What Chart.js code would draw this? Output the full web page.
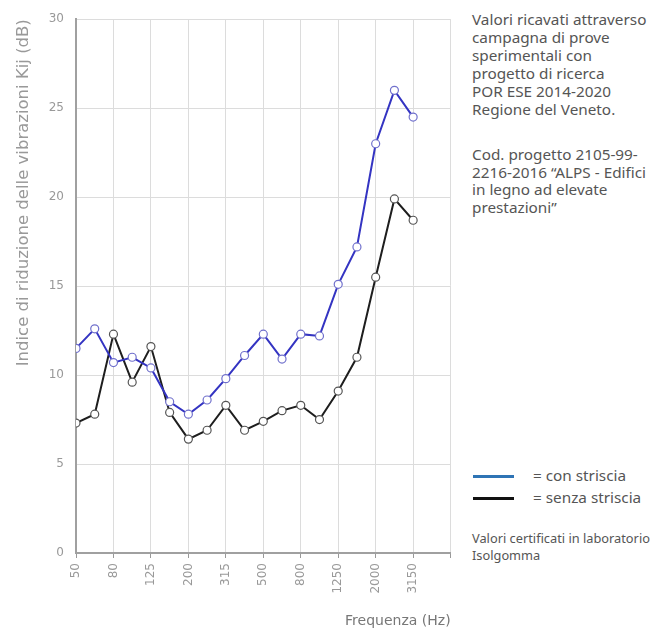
<!DOCTYPE html>
<html>
<head>
<meta charset="utf-8">
<script src="https://cdn.jsdelivr.net/npm/chart.js@4.4.1/dist/chart.umd.min.js"></script>
<style>
  html, body { margin:0; padding:0; background:#fff; }
  #wrap { position:relative; width:657px; height:630px; overflow:hidden; }
  #box { position:absolute; left:0; top:0; width:470px; height:630px; }
  .note { position:absolute; left:472px; font-family:"Noto Sans", sans-serif; color:#555; white-space:nowrap; }
  .p { font-size:15.3px; }
  #info1 { top:10px; line-height:18px; }
  #info2 { top:146px; line-height:17.5px; }
  #legend { top:465px; font-size:15.3px; line-height:20px; width:185px; }
  #legend div { position:relative; height:22px; }
  #legend span.ln { position:absolute; left:1px; top:10px; width:41px; height:3px; }
  #legend span.tx { position:absolute; left:61px; top:0; }
  #cert { top:530px; font-size:12.8px; line-height:17px; }
</style>
</head>
<body>
<div id="wrap">
  <div id="box"><canvas id="chart"></canvas></div>
  <div class="note p" id="info1">Valori ricavati attraverso<br>campagna di prove<br>sperimentali con<br>progetto di ricerca<br>POR ESE 2014-2020<br>Regione del Veneto.</div>
  <div class="note p" id="info2">Cod. progetto 2105-99-<br>2216-2016 “ALPS - Edifici<br>in legno ad elevate<br>prestazioni”</div>
  <div class="note" id="legend">
    <div><span class="ln" style="background:#2e74b5"></span><span class="tx">= con striscia</span></div>
    <div><span class="ln" style="background:#111"></span><span class="tx">= senza striscia</span></div>
  </div>
  <div class="note" id="cert">Valori certificati in laboratorio<br>Isolgomma</div>
</div>
<script>
// third-octave bands (Hz) on the x axis
const freqs = [50, 63, 80, 100, 125, 160, 200, 250, 315, 400, 500, 630, 800, 1000, 1250, 1600, 2000, 2500, 3150, 4000, 5000];

// Kij (dB)
const conStriscia   = [11.5, 12.6, 10.7, 11.0, 10.4, 8.5, 7.8, 8.6, 9.8, 11.1, 12.3, 10.9, 12.3, 12.2, 15.1, 17.2, 23.0, 26.0, 24.5];
const senzaStriscia = [7.3, 7.8, 12.3, 9.6, 11.6, 7.9, 6.4, 6.9, 8.3, 6.9, 7.4, 8.0, 8.3, 7.5, 9.1, 11.0, 15.5, 19.9, 18.7];

const yTicks = [0, 5, 10, 15, 20, 25, 30];

const toPoints = arr => arr.map((v, i) => ({ x: i, y: v }));

const tickFont = { family: "'DejaVu Sans', sans-serif", size: 12 };

new Chart(document.getElementById("chart"), {
  type: "line",
  data: {
    datasets: [
      { label: "con striscia", data: toPoints(conStriscia), borderColor: "#3434c2", borderWidth: 2,
        pointRadius: 4, pointBackgroundColor: "#fff", pointBorderColor: "#7070cc", pointBorderWidth: 1.2, tension: 0 },
      { label: "senza striscia", data: toPoints(senzaStriscia), borderColor: "#1e1e1e", borderWidth: 2,
        pointRadius: 4, pointBackgroundColor: "#fff", pointBorderColor: "#555", pointBorderWidth: 1.2, tension: 0 }
    ]
  },
  options: {
    responsive: true, maintainAspectRatio: false, animation: false,
    layout: { padding: { top: 19, right: 10, bottom: 0, left: 0 } },
    plugins: { legend: { display: false }, tooltip: { enabled: false } },
    scales: {
      x: {
        type: "linear", min: 0, max: freqs.length - 1,
        afterFit: s => { s.height = 77; },
        ticks: { stepSize: 2, autoSkip: false, minRotation: 90, maxRotation: 90, color: "#999", font: tickFont, padding: 5,
          callback: v => (v < freqs.length - 1 ? String(freqs[v]) : "") },
        grid: { color: "#dcdcdc", tickLength: 5, tickColor: "#999" },
        border: { color: "#a0a0a0", width: 2 },
        title: { display: true, text: "Frequenza (Hz)", align: "end", color: "#777",
          font: { family: "'DejaVu Sans', sans-serif", size: 14 }, padding: { top: 4, bottom: 0 } }
      },
      y: {
        min: 0, max: 30,
        afterFit: s => { s.width = 76; },
        afterBuildTicks: s => { s.ticks = yTicks.map(v => ({ value: v })); },
        ticks: { color: "#999", font: tickFont, padding: 12 },
        grid: { color: "#dcdcdc", tickLength: 0 },
        border: { color: "#a0a0a0", width: 2 },
        title: { display: true, text: "Indice di riduzione delle vibrazioni Kij (dB)", align: "end", color: "#999",
          font: { family: "'DejaVu Sans', sans-serif", size: 16.5 }, padding: { top: 14, bottom: 0 } }
      }
    }
  }
});
</script>
</body>
</html>
